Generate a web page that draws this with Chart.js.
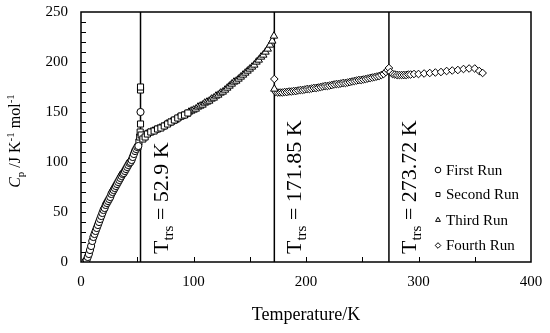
<!DOCTYPE html>
<html>
<head>
<meta charset="utf-8">
<script src="https://cdn.jsdelivr.net/npm/chart.js@4.4.1/dist/chart.umd.min.js"></script>
<style>
html, body { margin: 0; padding: 0; background: #fff; }
#wrap { width: 550px; height: 333px; }
</style>
</head>
<body>
<div id="wrap"><canvas id="cpChart" width="550" height="333"></canvas></div>
<script>
// Datos (T en K, Cp en J K-1 mol-1)
const run1T  = [4,5,6,7,8,9,10,11,12,13,14,15,16,17,18,19,20,21,22,23,24,25,26,27,28,29,30,31,32,33,34,35,36,37,38,39,40,41,42,43,44,45,46,47,48,49,50,51,52.9];
const run1Cp = [0.5,2,5,8,12,16,21,25,28,31,34,37,40,43,46,49,52,54,57,59,61,63,65,68,70,72,74,76,78,80,82,84,86,88,89,91,93,95,97,99,100,102,105,108,111,113,115,116,150];

const run2T  = [50.5,51.5,52.2,52.6,52.9,52.9,52.9,53.5,55,57,59,62,65,68,71,74,77,80,83,86,89,92,95];
const run2Cp = [115,120,125,130,138,172,175,127,123,125,128,130,131,133,134,136,138,140,142,144,146,147,149];

const run3T  = [56,58,60,62,64,66,68,70,72,74,76,78,80,82,84,86,88,90,92,94,96,98,100,102,104,106,108,110,112,114,116,118,120,122,124,126,128,130,132,134,136,138,140,142,144,146,148,150,152,154,156,158,160,162,164,166,168,170,171.5,171.85];
const run3Cp = [126,128,129,130,131,132,133,134,135,136,138,139,140,141,142,144,145,146,147,148,150,151,152,153,155,156,157,159,160,161,163,164,166,167,169,170,172,174,176,178,180,181,183,185,187,189,191,193,195,197,200,202,205,207,210,213,217,221,226,173];

const run4T  = [171.85,173,175,177,179,181,183,185,187,189,191,193,195,197,199,201,203,205,207,209,211,213,215,217,219,221,223,225,227,229,231,233,235,237,239,241,243,245,247,249,251,253,255,257,259,261,263,265,267,269,271,272.5,273.7,275,277,279,281,283,285,287,289,291,293,296,300,305,310,315,320,325,330,335,340,345,350,354,357];
const run4Cp = [183,170,169.5,169.5,169.5,170,170,170.5,170.5,171,171,171.5,172,172,172.5,173,173,173.5,174,174,174.5,175,175.5,176,176,176.5,177,177.5,178,178,178.5,179,179,179.5,180,180.5,181,181.5,182,182,182.5,183,183.5,184,184.5,185,185.5,186,187,188,190,192,194,190,188,187.5,187,187,187,187,187,187.5,187.5,188,188,188.5,189,189.5,190,191,191.5,192,193,193.5,193.5,191,189];

const trsT = [52.9, 171.85, 273.72];
const trsText = ['52.9', '171.85', '273.72'];

const runNames = ['First Run', 'Second Run', 'Third Run', 'Fourth Run'];
const runStyles = ['circle', 'rect', 'triangle', 'rectRot'];

const serif = '"Liberation Serif", "Times New Roman", serif';

function toPoints(xs, ys) {
    return xs.map((t, i) => ({ x: t, y: ys[i] }));
}

const runData = [toPoints(run1T, run1Cp), toPoints(run2T, run2Cp), toPoints(run3T, run3Cp), toPoints(run4T, run4Cp)];
const runRadius = [3.6, 4.3, 4.3, 3.8];

const datasets = runData.map((d, i) => ({
    label: runNames[i],
    data: d,
    pointStyle: runStyles[i],
    pointRadius: runRadius[i],
    pointBackgroundColor: '#fff',
    pointBorderColor: '#000',
    pointBorderWidth: 1,
    order: 1
}));

// lineas verticales de las transiciones
trsT.forEach(t => {
    datasets.push({
        label: 'trs',
        data: [{ x: t, y: 0 }, { x: t, y: 250 }],
        showLine: true,
        borderColor: '#000',
        borderWidth: 1.5,
        pointRadius: 0,
        order: 5
    });
});

// marco, ticks hacia dentro, etiquetas y leyenda
const extrasPlugin = {
    id: 'extras',
    afterDatasetsDraw(chart) {
        const ctx = chart.ctx;
        const a = chart.chartArea;
        const xs = chart.scales.x, ys = chart.scales.y;
        ctx.save();
        ctx.strokeStyle = '#000';
        ctx.lineWidth = 1.5;
        ctx.strokeRect(a.left, a.top, a.right - a.left, a.bottom - a.top);

        ctx.lineWidth = 1;
        ctx.beginPath();
        for (let v = 10; v < 250; v += 10) {
            const py = Math.round(ys.getPixelForValue(v)) + 0.5;
            ctx.moveTo(a.left, py);
            ctx.lineTo(a.left + 5, py);
        }
        for (let v = 50; v < 400; v += 50) {
            const px = Math.round(xs.getPixelForValue(v)) + 0.5;
            ctx.moveTo(px, a.bottom);
            ctx.lineTo(px, a.bottom - 5);
        }
        ctx.stroke();

        // T_trs rotadas
        ctx.fillStyle = '#000';
        ctx.textBaseline = 'alphabetic';
        ctx.textAlign = 'left';
        trsT.forEach((t, i) => {
            const px = xs.getPixelForValue(t) + 27;
            ctx.save();
            ctx.translate(px, 254);
            ctx.rotate(-Math.PI / 2);
            let cx = 0;
            ctx.font = '22px ' + serif;
            ctx.fillText('T', cx, 0);
            cx += ctx.measureText('T').width;
            ctx.font = '15px ' + serif;
            ctx.fillText('trs', cx, 5);
            cx += ctx.measureText('trs').width;
            ctx.font = '22px ' + serif;
            ctx.fillText(' = ' + trsText[i] + ' K', cx, 0);
            ctx.restore();
        });

        // titulo eje y
        ctx.save();
        ctx.translate(20, 141);
        ctx.rotate(-Math.PI / 2);
        const parts = [
            ['italic 16px ' + serif, 'C', 0],
            ['11px ' + serif, 'p', 4],
            ['16px ' + serif, ' /J K', 0],
            ['11px ' + serif, '-1', -6],
            ['16px ' + serif, ' mol', 0],
            ['11px ' + serif, '-1', -6]
        ];
        let total = 0;
        parts.forEach(p => { ctx.font = p[0]; total += ctx.measureText(p[1]).width; });
        let cx = -total / 2;
        parts.forEach(p => {
            ctx.font = p[0];
            ctx.fillText(p[1], cx, p[2]);
            cx += ctx.measureText(p[1]).width;
        });
        ctx.restore();

        // leyenda
        const legY = [170, 194.5, 220, 245.5];
        ctx.font = '15px ' + serif;
        ctx.textBaseline = 'middle';
        runNames.forEach((name, i) => {
            ctx.fillStyle = '#fff';
            ctx.strokeStyle = '#000';
            ctx.lineWidth = 1;
            Chart.helpers.drawPoint(ctx, {
                pointStyle: runStyles[i],
                radius: 2.8,
                borderWidth: 1
            }, 438, legY[i]);
            ctx.fillStyle = '#000';
            ctx.fillText(name, 446, legY[i] + 1);
        });
        ctx.restore();
    }
};

const ctx = document.getElementById('cpChart').getContext('2d');
const cpChart = new Chart(ctx, {
    type: 'scatter',
    data: { datasets: datasets },
    options: {
        responsive: false,
        devicePixelRatio: 1,
        animation: false,
        layout: { padding: { top: 12, right: 19, left: 0, bottom: 0 } },
        plugins: {
            legend: { display: false },
            tooltip: { enabled: false }
        },
        scales: {
            x: {
                type: 'linear',
                min: 0,
                max: 400,
                ticks: { stepSize: 100, color: '#000', padding: 11, maxRotation: 0, font: { family: serif, size: 15 } },
                grid: { display: false, drawTicks: false },
                border: { display: false },
                title: { display: true, text: 'Temperature/K', color: '#000', font: { family: serif, size: 18 }, padding: { top: 0, bottom: 7 } },
                afterFit: s => { s.height = 71; s.paddingLeft = 0; s.paddingRight = 0; }
            },
            y: {
                min: 0,
                max: 250,
                ticks: { stepSize: 50, color: '#000', padding: 13, font: { family: serif, size: 15 } },
                grid: { display: false, drawTicks: false },
                border: { display: false },
                afterFit: s => { s.width = 81; s.paddingTop = 0; s.paddingBottom = 0; }
            }
        }
    },
    plugins: [extrasPlugin]
});
</script>
</body>
</html>
